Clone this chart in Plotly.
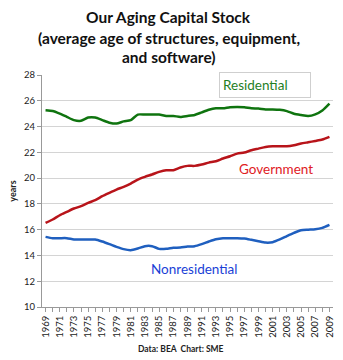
import plotly.graph_objects as go

years = list(range(1969, 2010))
residential = [25.26, 25.2, 25.0, 24.75, 24.5, 24.45, 24.7, 24.7, 24.5, 24.3, 24.23, 24.4, 24.5,
               24.93, 24.93, 24.93, 24.93, 24.82, 24.82, 24.75, 24.82, 24.9, 25.1, 25.3, 25.42,
               25.42, 25.5, 25.52, 25.5, 25.42, 25.4, 25.33, 25.33, 25.3, 25.2, 25.0, 24.9, 24.82,
               24.95, 25.25, 25.78]
government = [16.53, 16.79, 17.12, 17.38, 17.64, 17.82, 18.08, 18.29, 18.6, 18.86, 19.11, 19.32,
              19.58, 19.89, 20.1, 20.28, 20.48, 20.61, 20.61, 20.82, 20.95, 20.95, 21.05, 21.2,
              21.31, 21.52, 21.7, 21.9, 21.98, 22.16, 22.29, 22.42, 22.47, 22.47, 22.47, 22.55,
              22.68, 22.78, 22.88, 22.99, 23.2]
nonresidential = [15.44, 15.34, 15.34, 15.34, 15.24, 15.24, 15.24, 15.24, 15.08, 14.88, 14.67,
                  14.49, 14.41, 14.54, 14.72, 14.72, 14.51, 14.51, 14.59, 14.61, 14.69, 14.72,
                  14.88, 15.08, 15.26, 15.34, 15.34, 15.34, 15.31, 15.21, 15.1, 15.0, 15.03,
                  15.24, 15.5, 15.75, 15.96, 16.0, 16.03, 16.14, 16.37]
title_lines = ["Our Aging Capital Stock", "(average age of structures, equipment,", "and software)"]

FONT = "Lato"
W, H = 343, 360
L, R, T, B = 42, 8, 75, 53

fig = go.Figure()
fig.add_trace(go.Scatter(x=years, y=residential, mode="lines", line=dict(color="#0f740f", width=2.5, shape="spline", smoothing=0.6), name="Residential"))
fig.add_trace(go.Scatter(x=years, y=government, mode="lines", line=dict(color="#b8141a", width=2.5, shape="spline", smoothing=0.6), name="Government"))
fig.add_trace(go.Scatter(x=years, y=nonresidential, mode="lines", line=dict(color="#1f5fbf", width=2.5, shape="spline", smoothing=0.6), name="Nonresidential"))

fig.update_layout(
    width=W, height=H,
    margin=dict(l=L, r=R, t=T, b=B),
    plot_bgcolor="white", paper_bgcolor="white",
    showlegend=False,
    font=dict(family=FONT, color="#222"),
    xaxis=dict(range=[1968.5, 2009.5], tick0=1969, dtick=2, tickangle=-90, ticks="outside", ticklen=4,
               tickcolor="#999", tickfont=dict(size=9.5, family=FONT, color="#222"), showgrid=False,
               showline=True, linecolor="#999", linewidth=1, zeroline=False,
               minor=dict(dtick=1, tick0=1969, ticks="outside", ticklen=4, tickcolor="#999")),
    yaxis=dict(range=[10, 28], dtick=2, ticks="outside", ticklen=4, tickcolor="#999",
               tickfont=dict(size=9.5, family=FONT, color="#222"), showgrid=True, gridcolor="#d4d4d4",
               showline=True, linecolor="#999", linewidth=1, zeroline=False,
               title=dict(text="<b>years</b>", font=dict(size=9, family=FONT, color="#222"), standoff=5)),
)


def px_to_paper(px, py):
    return (px - L) / (W - R - L), (H - B - py) / (H - B - T)


def add_text(text, px, py, size, color, **kw):
    ax, ay = px_to_paper(px, py)
    fig.add_annotation(text=text, x=ax, y=ay, xref="paper", yref="paper", showarrow=False,
                       xanchor="center", yanchor="middle",
                       font=dict(size=size, color=color, family=FONT), **kw)


for line, py in zip(title_lines, [17, 37.5, 57.5]):
    add_text("<b>" + line + "</b>", 169.5, py, 15.5, "#111")

add_text("Residential", 267, 85, 13.5, "#1f801f", bgcolor="white", bordercolor="#cfcfcf",
         borderwidth=1, borderpad=3, width=84, height=18, align="left")
add_text("Government", 277.5, 168.5, 13.5, "#e0201e")
add_text("Nonresidential", 195, 268.5, 13.5, "#1a3fd6")
add_text("<b>Data: BEA&nbsp;&nbsp;Chart: SME</b>", 182, 349, 8.5, "#222")

fig.write_html("out.html")
